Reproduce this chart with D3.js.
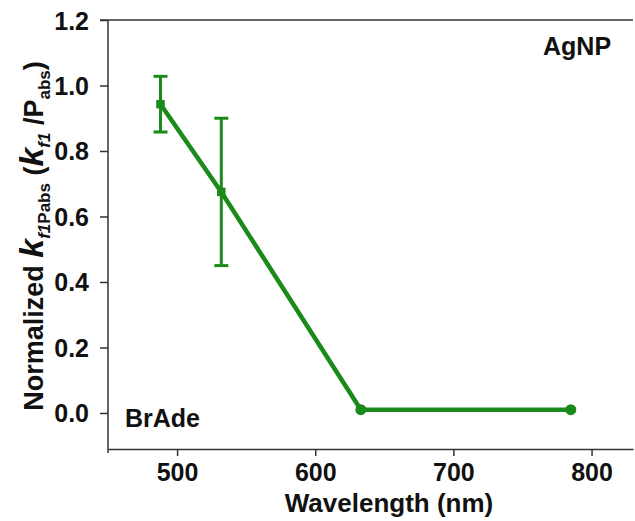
<!DOCTYPE html>
<html>
<head>
<meta charset="utf-8">
<script src="https://cdn.jsdelivr.net/npm/d3@7"></script>
<style>
  body { margin: 0; background: #fff; }
  text { font-family: "Liberation Sans", Arial, sans-serif; font-weight: bold; }
</style>
</head>
<body>
<script>
// data
var wavelength = [488, 532, 633, 785];
var kNorm      = [0.943, 0.675, 0.01, 0.01];
var errLow     = [0.085, 0.225, 0, 0];
var errHigh    = [0.085, 0.225, 0, 0];
var markerType = ["square", "square", "circle", "circle"];
var xTicks = [500, 600, 700, 800];
var yTicks = [0.0, 0.2, 0.4, 0.6, 0.8, 1.0, 1.2];

var green = "#1a8a1a";
var axisCol = "#333";

var svg = d3.select("body")
    .append("svg")
    .attr("width", 635)
    .attr("height", 521)
    .style("display", "block");

var margin = {top: 20, right: 2, bottom: 72, left: 108};
var width = 635 - margin.left - margin.right;
var height = 521 - margin.top - margin.bottom;

var g = svg.append("g").attr("transform", "translate(" + margin.left + "," + margin.top + ")");

var x = d3.scaleLinear().domain([450, 830]).range([0, width]);
var y = d3.scaleLinear().domain([-0.11, 1.2]).range([height, 0]);

var data = wavelength.map(function(w, i) {
    return {w: w, v: kNorm[i], lo: errLow[i], hi: errHigh[i], m: markerType[i]};
});

// top border line
g.append("line")
    .attr("x1", -8).attr("x2", width)
    .attr("y1", 0).attr("y2", 0)
    .attr("stroke", axisCol).attr("stroke-width", 1.5);

var xAxis = d3.axisBottom(x).tickValues(xTicks).tickSize(7).tickSizeOuter(0).tickFormat(d3.format("d"));
var yAxis = d3.axisLeft(y).tickValues(yTicks).tickSize(8).tickSizeOuter(0).tickFormat(d3.format(".1f"));

var gx = g.append("g")
    .attr("transform", "translate(0," + height + ")")
    .call(xAxis);
gx.select(".domain").attr("stroke", axisCol).attr("stroke-width", 1.5);
gx.selectAll(".tick line").attr("stroke", axisCol).attr("stroke-width", 1.5);
gx.selectAll("text")
    .attr("y", 14)
    .attr("fill", "#111")
    .style("font-size", "25px")
    .style("font-family", "Liberation Sans, Arial, sans-serif")
    .style("font-weight", "bold");

var gy = g.append("g").call(yAxis);
gy.select(".domain").attr("d", "M0,0V" + (height + 4)).attr("stroke", axisCol).attr("stroke-width", 1.5);
gy.selectAll(".tick line").attr("stroke", axisCol).attr("stroke-width", 1.5);
gy.selectAll("text")
    .attr("x", -19)
    .attr("dy", "0.36em")
    .attr("fill", "#111")
    .style("font-size", "25px")
    .style("font-family", "Liberation Sans, Arial, sans-serif")
    .style("font-weight", "bold");

// line
var line = d3.line()
    .x(function(d) { return x(d.w); })
    .y(function(d) { return y(d.v); });

g.append("path")
    .datum(data)
    .attr("d", line)
    .attr("fill", "none")
    .attr("stroke", green)
    .attr("stroke-width", 4.5)
    .attr("stroke-linejoin", "round");

// error bars
var eb = g.selectAll(".err")
    .data(data.filter(function(d) { return d.lo > 0 || d.hi > 0; }))
    .enter().append("g").attr("class", "err");

eb.append("line")
    .attr("x1", function(d) { return x(d.w); })
    .attr("x2", function(d) { return x(d.w); })
    .attr("y1", function(d) { return y(d.v - d.lo); })
    .attr("y2", function(d) { return y(d.v + d.hi); })
    .attr("stroke", green).attr("stroke-width", 3);

[function(d) { return y(d.v + d.hi); }, function(d) { return y(d.v - d.lo); }].forEach(function(fy) {
    eb.append("line")
        .attr("x1", function(d) { return x(d.w) - 7; })
        .attr("x2", function(d) { return x(d.w) + 7; })
        .attr("y1", fy)
        .attr("y2", fy)
        .attr("stroke", green).attr("stroke-width", 3);
});

// markers
g.selectAll(".mk")
    .data(data)
    .enter().append("path")
    .attr("class", "mk")
    .attr("transform", function(d) { return "translate(" + x(d.w) + "," + y(d.v) + ")"; })
    .attr("d", function(d) {
        return d3.symbol().type(d.m == "square" ? d3.symbolSquare : d3.symbolCircle).size(d.m == "square" ? 72 : 95)();
    })
    .attr("fill", green);

// annotations
svg.append("text")
    .attr("x", 543).attr("y", 55)
    .style("font-size", "25px")
    .attr("fill", "#111")
    .text("AgNP");

svg.append("text")
    .attr("x", 125).attr("y", 427)
    .style("font-size", "25px")
    .attr("fill", "#111")
    .text("BrAde");

// x title
svg.append("text")
    .attr("x", 389).attr("y", 512)
    .attr("text-anchor", "middle")
    .style("font-size", "26px")
    .attr("fill", "#111")
    .text("Wavelength (nm)");

// y title with italic k and subscripts
var yt = svg.append("text")
    .attr("transform", "translate(43,236) rotate(-90)")
    .attr("text-anchor", "middle")
    .style("font-size", "27px")
    .attr("fill", "#111");
yt.append("tspan").text("Normalized ");
yt.append("tspan").style("font-style", "italic").style("font-size", "34px").text("k");
yt.append("tspan").attr("dy", 7).style("font-size", "17px").style("font-style", "italic").text("f1");
yt.append("tspan").style("font-size", "17px").text("Pabs");
yt.append("tspan").attr("dy", -7).text(" (");
yt.append("tspan").style("font-style", "italic").style("font-size", "34px").text("k");
yt.append("tspan").attr("dy", 7).style("font-size", "17px").style("font-style", "italic").text("f1");
yt.append("tspan").attr("dy", -7).text(" /P");
yt.append("tspan").attr("dy", 7).style("font-size", "17px").text("abs");
yt.append("tspan").attr("dy", -7).text(")");
</script>
</body>
</html>
